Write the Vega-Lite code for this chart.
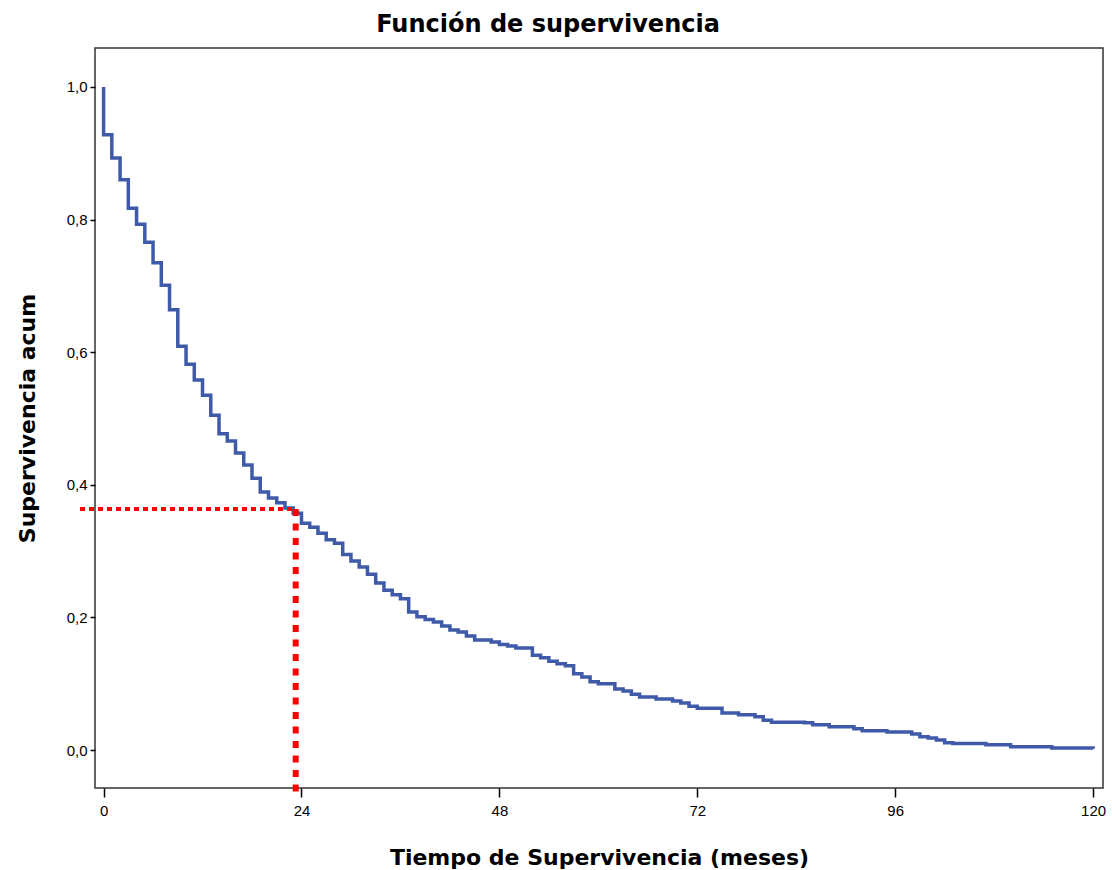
{
  "$schema": "https://vega.github.io/schema/vega-lite/v6.json",
  "width": 1008,
  "height": 740,
  "autosize": {"type": "none"},
  "padding": {"left": 95, "top": 48, "right": 9, "bottom": 82},
  "background": "white",
  "config": {
    "view": {"stroke": "#333333", "strokeWidth": 1.5},
    "font": "Liberation Sans"
  },
  "title": {
    "text": "Función de supervivencia",
    "font": "DejaVu Sans",
    "fontWeight": "bold",
    "fontSize": 24,
    "color": "#000000",
    "anchor": "middle",
    "frame": "group",
    "dx": -51,
    "offset": 11
  },
  "layer": [
    {
      "data": {
        "values": [
          {"t": 0, "S": 1.0}, {"t": 0, "S": 0.928}, {"t": 1, "S": 0.893}, {"t": 2, "S": 0.860},
          {"t": 3, "S": 0.817}, {"t": 4, "S": 0.793}, {"t": 5, "S": 0.766}, {"t": 6, "S": 0.735},
          {"t": 7, "S": 0.701}, {"t": 8, "S": 0.664}, {"t": 9, "S": 0.609}, {"t": 10, "S": 0.582},
          {"t": 11, "S": 0.558}, {"t": 12, "S": 0.535}, {"t": 13, "S": 0.505}, {"t": 14, "S": 0.477},
          {"t": 15, "S": 0.466}, {"t": 16, "S": 0.448}, {"t": 17, "S": 0.430}, {"t": 18, "S": 0.410},
          {"t": 19, "S": 0.389}, {"t": 20, "S": 0.380}, {"t": 21, "S": 0.373}, {"t": 22, "S": 0.365},
          {"t": 23, "S": 0.357}, {"t": 24, "S": 0.342}, {"t": 25, "S": 0.336}, {"t": 26, "S": 0.327},
          {"t": 27, "S": 0.317}, {"t": 28, "S": 0.312}, {"t": 29, "S": 0.295}, {"t": 30, "S": 0.285},
          {"t": 31, "S": 0.276}, {"t": 32, "S": 0.265}, {"t": 33, "S": 0.252}, {"t": 34, "S": 0.241},
          {"t": 35, "S": 0.234}, {"t": 36, "S": 0.228}, {"t": 37, "S": 0.208}, {"t": 38, "S": 0.201},
          {"t": 39, "S": 0.197}, {"t": 40, "S": 0.193}, {"t": 41, "S": 0.187}, {"t": 42, "S": 0.181},
          {"t": 43, "S": 0.178}, {"t": 44, "S": 0.172}, {"t": 45, "S": 0.166}, {"t": 47, "S": 0.163},
          {"t": 48, "S": 0.159}, {"t": 49, "S": 0.157}, {"t": 50, "S": 0.154}, {"t": 52, "S": 0.143},
          {"t": 53, "S": 0.139}, {"t": 54, "S": 0.134}, {"t": 55, "S": 0.130}, {"t": 56, "S": 0.127},
          {"t": 57, "S": 0.115}, {"t": 58, "S": 0.110}, {"t": 59, "S": 0.103}, {"t": 60, "S": 0.100},
          {"t": 62, "S": 0.092}, {"t": 63, "S": 0.089}, {"t": 64, "S": 0.084}, {"t": 65, "S": 0.080},
          {"t": 67, "S": 0.077}, {"t": 69, "S": 0.074}, {"t": 70, "S": 0.071}, {"t": 71, "S": 0.066},
          {"t": 72, "S": 0.063}, {"t": 75, "S": 0.056}, {"t": 77, "S": 0.053}, {"t": 79, "S": 0.050},
          {"t": 80, "S": 0.045}, {"t": 81, "S": 0.042}, {"t": 85, "S": 0.041}, {"t": 86, "S": 0.038},
          {"t": 88, "S": 0.035}, {"t": 91, "S": 0.032}, {"t": 92, "S": 0.029}, {"t": 95, "S": 0.027},
          {"t": 98, "S": 0.024}, {"t": 99, "S": 0.020}, {"t": 100, "S": 0.018}, {"t": 101, "S": 0.015},
          {"t": 102, "S": 0.011}, {"t": 103, "S": 0.010}, {"t": 107, "S": 0.008}, {"t": 110, "S": 0.005},
          {"t": 115, "S": 0.003}, {"t": 120, "S": 0.002}
        ]
      },
      "mark": {"type": "line", "interpolate": "step-after", "color": "#3F5AA8", "strokeWidth": 3.5},
      "encoding": {
        "x": {
          "field": "t",
          "type": "quantitative",
          "scale": {"domain": [-1.04, 121.2], "nice": false, "zero": false},
          "axis": {
            "values": [0, 24, 48, 72, 96, 120],
            "domain": false,
            "grid": false,
            "tickSize": 9,
            "tickColor": "#000000",
            "tickWidth": 1.5,
            "labelFont": "Liberation Sans",
            "labelFontSize": 15,
            "labelColor": "#000000",
            "labelPadding": 6,
            "labelFlush": false,
            "title": "Tiempo de Supervivencia (meses)",
            "titleFont": "DejaVu Sans",
            "titleFontSize": 22,
            "titleFontWeight": "bold",
            "titleColor": "#000000",
            "titleX": 504,
            "titleY": 76,
            "titleAlign": "center",
            "titleBaseline": "alphabetic"
          }
        },
        "y": {
          "field": "S",
          "type": "quantitative",
          "scale": {"domain": [-0.0573, 1.0588], "nice": false, "zero": false},
          "axis": {
            "values": [0, 0.2, 0.4, 0.6, 0.8, 1.0],
            "labelExpr": "replace(format(datum.value, '.1f'), '.', ',')",
            "domain": false,
            "grid": false,
            "tickSize": 5,
            "tickColor": "#000000",
            "tickWidth": 1.5,
            "labelFont": "Liberation Sans",
            "labelFontSize": 15,
            "labelColor": "#000000",
            "labelPadding": 3,
            "labelFlush": false,
            "title": "Supervivencia acum",
            "titleFont": "DejaVu Sans",
            "titleFontSize": 22,
            "titleFontWeight": "bold",
            "titleColor": "#000000",
            "titleAngle": -90,
            "titleX": -61,
            "titleY": 370,
            "titleAlign": "center",
            "titleBaseline": "alphabetic"
          }
        },
        "order": {"field": "S", "sort": "descending"}
      }
    },
    {
      "data": {"values": [{"t0": -2.86, "t1": 23.3, "s": 0.3635}]},
      "mark": {"type": "rule", "color": "#FF0000", "strokeWidth": 4, "strokeDash": [5, 4]},
      "encoding": {
        "x": {"field": "t0", "type": "quantitative"},
        "x2": {"field": "t1"},
        "y": {"field": "s", "type": "quantitative"}
      }
    },
    {
      "data": {"values": [{"t": 23.3, "s0": 0.3635, "s1": -0.065}]},
      "mark": {"type": "rule", "color": "#FF0000", "strokeWidth": 6, "strokeDash": [7, 7.5]},
      "encoding": {
        "x": {"field": "t", "type": "quantitative"},
        "y": {"field": "s0", "type": "quantitative"},
        "y2": {"field": "s1"}
      }
    }
  ]
}
